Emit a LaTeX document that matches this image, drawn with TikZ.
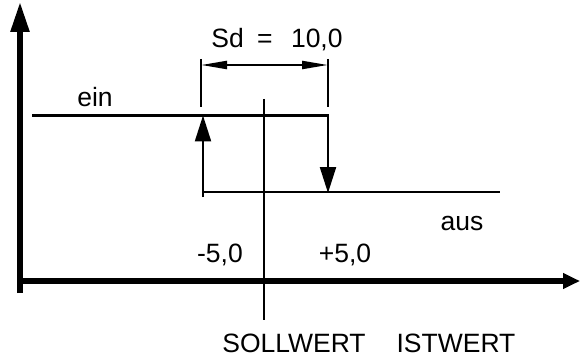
\documentclass[tikz,border=0pt]{standalone}
\usepackage{fontspec}
\setmainfont{Liberation Sans}
\usetikzlibrary{arrows.meta}
\begin{document}
\begin{tikzpicture}[x=1pt,y=-1pt,
  thinline/.style={line width=2.2pt},
  axisline/.style={line width=5.5pt},
  lbl/.style={anchor=base,inner sep=0pt,font=\fontsize{26.5}{30}\selectfont},
  vtip/.style={-{Triangle[length=26pt,width=16pt]}},
  dimtip/.style={{Triangle[length=26pt,width=8pt]}-{Triangle[length=26pt,width=8pt]}}]
\useasboundingbox (0,0) rectangle (580,358);
% coordinates
\coordinate (yb) at (20,293);
\coordinate (yt) at (20,2);
\coordinate (xl) at (17,281);
\coordinate (xr) at (580,281);
\coordinate (einL) at (32,115.5);
\coordinate (einR) at (329,115.5);
\coordinate (ausL) at (202,192);
\coordinate (ausR) at (500,192);
\coordinate (lb) at (203,197);
\coordinate (lt) at (203,115.5);
\coordinate (rt) at (328,115.5);
\coordinate (rb) at (328,193);
\coordinate (sollT) at (264,99);
\coordinate (sollB) at (264,320);
\coordinate (e1t) at (201,59);
\coordinate (e1b) at (201,107);
\coordinate (e2t) at (328,59);
\coordinate (e2b) at (328,107);
\coordinate (d1) at (201,65);
\coordinate (d2) at (328,65);
% axes
\draw[axisline,-{Triangle[length=30pt,width=18pt]}] (yb) -- (yt);
\draw[axisline,-{Triangle[length=17pt,width=15pt]}] (xl) -- (xr);
% hysteresis lines
\draw[thinline] (einL) -- (einR);
\draw[thinline] (ausL) -- (ausR);
\draw[thinline,vtip] (lb) -- (lt);
\draw[thinline,vtip] (rt) -- (rb);
\draw[thinline] (sollT) -- (sollB);
% dimension
\draw[thinline] (e1t) -- (e1b);
\draw[thinline] (e2t) -- (e2b);
\draw[thinline,dimtip] (d1) -- (d2);
% labels
\node[lbl] (sd) at (277,48) {Sd\hspace{0.5em}=\hspace{0.7em}10,0};
\node[lbl] (ein) at (95,107) {ein};
\node[lbl] (aus) at (462,230) {aus};
\node[lbl] (m5) at (220,262) {-5,0};
\node[lbl] (p5) at (345,262) {+5,0};
\node[lbl] (soll) at (294,352) {SOLLWERT};
\node[lbl] (ist) at (456,352) {ISTWERT};
\end{tikzpicture}
\end{document}
